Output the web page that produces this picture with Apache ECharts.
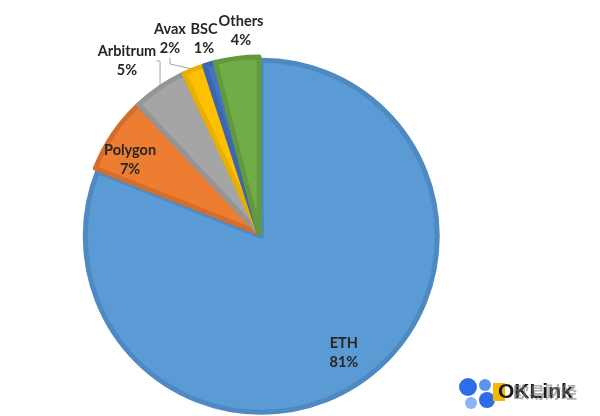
<!DOCTYPE html>
<html><head><meta charset="utf-8">
<script src="https://cdn.jsdelivr.net/npm/echarts@6/dist/echarts.min.js"></script>
<style>html,body{margin:0;padding:0;background:#fff}#c{width:600px;height:416px}</style>
</head><body><div id="c"></div>
<script>
const categories = ['ETH', 'Polygon', 'Arbitrum', 'Avax', 'BSC', 'Others'];
const shares = [81, 7, 5, 2, 1, 4];
const fills = ['#5B9BD5', '#ED7D31', '#A5A5A5', '#FFC000', '#4472C4', '#70AD47'];
const borders = ['#4F89C2', '#D46E2A', '#959595', '#E8AE00', '#3C66B0', '#62993E'];
const insideSet = ['ETH', 'Polygon'];

const chart = echarts.init(document.getElementById('c'));
const font = {fontFamily: 'Lato', fontWeight: 'bold', fontSize: 14.5, color: '#262626', lineHeight: 19};
const center = [259, 233];
const R = 176;

// outside label placements (label centres)
const outsidePos = {Arbitrum: [127, 61], Avax: [170, 39], BSC: [204, 39], Others: [241, 31]};

const mainData = categories.map((c, i) => ({
  name: c, value: shares[i],
  selected: c === 'ETH',
  itemStyle: {color: fills[i], borderColor: borders[i], borderWidth: 5},
  label: {show: !insideSet.includes(c)},
  labelLine: {show: c === 'Arbitrum' || c === 'Avax'}
}));

const labelData = categories.map((c, i) => ({
  name: c, value: shares[i],
  label: {show: insideSet.includes(c)}
}));

chart.setOption({
  animation: false,
  series: [{
    type: 'pie',
    center: center,
    radius: [0, R],
    startAngle: 90,
    clockwise: true,
    selectedMode: 'single',
    selectedOffset: 4,
    avoidLabelOverlap: false,
    data: mainData,
    label: Object.assign({position: 'outside', formatter: '{b}\n{c}%', align: 'center'}, font),
    labelLine: {length: 8, length2: 6, lineStyle: {color: '#A5A5A5', width: 1}},
    labelLayout: function (p) {
      const n = categories[p.dataIndex];
      if (outsidePos[n]) {
        return {x: outsidePos[n][0], y: outsidePos[n][1], align: 'center', verticalAlign: 'middle'};
      }
      return {};
    },
    emphasis: {disabled: true}
  }, {
    type: 'pie',
    center: center,
    radius: [R * 0.6, R],
    startAngle: 90,
    clockwise: true,
    silent: true,
    itemStyle: {color: 'rgba(0,0,0,0)'},
    data: labelData,
    label: Object.assign({position: 'inside', formatter: '{b}\n{c}%'}, font),
    labelLine: {show: false},
    labelLayout: function (p) {
      if (categories[p.dataIndex] === 'Polygon') return {dx: -10, dy: 8};
      if (categories[p.dataIndex] === 'ETH') return {dx: 4, dy: 1};
      return {};
    },
    emphasis: {disabled: true}
  }],
  graphic: [
    {type: 'circle', shape: {cx: 468, cy: 387, r: 9}, style: {fill: '#2D6EE8'}},
    {type: 'circle', shape: {cx: 485, cy: 385, r: 6}, style: {fill: '#5B93F0'}},
    {type: 'circle', shape: {cx: 471, cy: 403, r: 6}, style: {fill: '#8AB4F5'}},
    {type: 'circle', shape: {cx: 487, cy: 400, r: 8}, style: {fill: '#2D6EE8'}},
    {type: 'rect', shape: {x: 493, y: 383, width: 12, height: 18}, style: {fill: '#F5B800'}},
    {type: 'text', x: 498, y: 392, style: {text: 'OKLink', font: 'bold 21px "Liberation Sans"', fill: '#1a1a1a', verticalAlign: 'middle'}},
    {type: 'text', x: 513, y: 392, style: {text: '欧易财经', font: 'bold 16px "Noto Sans CJK SC"', fill: 'rgba(120,120,120,0.6)', verticalAlign: 'middle'}}
  ]
});
</script></body></html>
